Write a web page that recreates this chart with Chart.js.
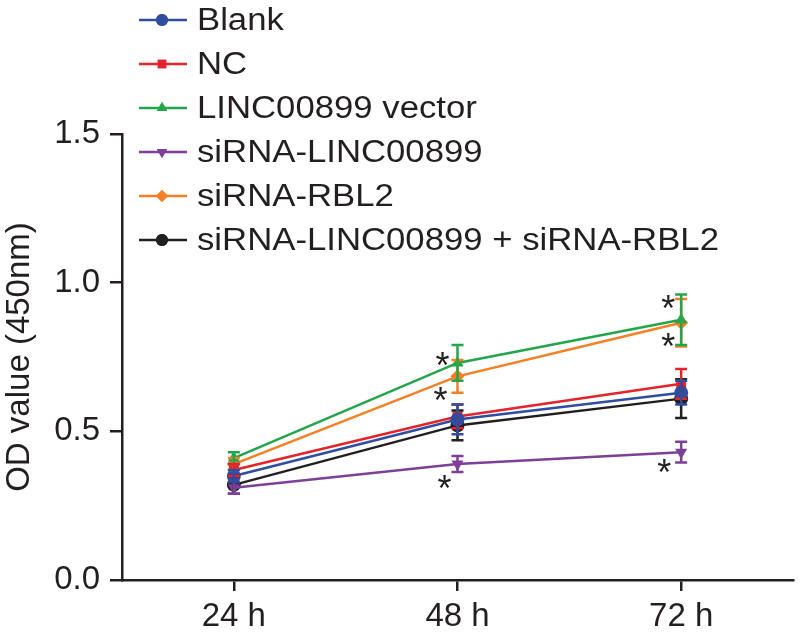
<!DOCTYPE html>
<html>
<head>
<meta charset="utf-8">
<script src="https://cdn.jsdelivr.net/npm/chart.js@4.4.1/dist/chart.umd.min.js"></script>
<style>
  body { margin: 0; background: #ffffff; }
  #wrap { width: 800px; height: 642px; position: relative; }
</style>
</head>
<body>
<div id="wrap"><canvas id="myChart" width="800" height="642"></canvas></div>
<script>
// data
var timeLabels = ['24 h', '48 h', '72 h'];
var yTicks = [0.0, 0.5, 1.0, 1.5];

var seriesNames = ['Blank', 'NC', 'LINC00899 vector', 'siRNA-LINC00899', 'siRNA-RBL2', 'siRNA-LINC00899 + siRNA-RBL2'];

var blank      = [0.35, 0.54, 0.63];
var nc         = [0.37, 0.55, 0.66];
var vector     = [0.41, 0.73, 0.875];
var siLinc     = [0.31, 0.39, 0.43];
var siRbl2     = [0.39, 0.685, 0.865];
var siBoth     = [0.32, 0.52, 0.61];

var blankErr   = [0.02, 0.05, 0.04];
var ncErr      = [0.02, 0.04, 0.05];
var vectorErr  = [0.02, 0.06, 0.085];
var siLincErr  = [0.02, 0.027, 0.035];
var siRbl2Err  = [0.02, 0.055, 0.08];
var siBothErr  = [0.03, 0.05, 0.065];

// significance marks: [series index, time index]
var stars = [[2, 1], [4, 1], [3, 1], [2, 2], [4, 2], [3, 2]];
// where each asterisk sits next to its point (px)
var starOffsets = [[-15, -3], [-17, 19], [-13, 19], [-13, -17], [-13, 18], [-17, 15]];

var colors = ['#2f4ea2', '#e5232a', '#22a64b', '#7e3f98', '#f47f24', '#231f20'];
var shapes = ['circle', 'rect', 'triangle', 'triangle', 'rectRot', 'circle'];
var rotations = [0, 0, 0, 180, 0, 0];
var values = [blank, nc, vector, siLinc, siRbl2, siBoth];
var errors = [blankErr, ncErr, vectorErr, siLincErr, siRbl2Err, siBothErr];

var FONT = '"Liberation Sans", Arial, sans-serif';

var datasets = [];
for (var i = 0; i < seriesNames.length; i++) {
    datasets.push({
        label: seriesNames[i],
        data: values[i],
        errs: errors[i],
        borderColor: colors[i],
        backgroundColor: colors[i],
        borderWidth: 2.5,
        pointStyle: shapes[i],
        rotation: rotations[i],
        pointRadius: 7,
        pointBorderWidth: 0,
        tension: 0
    });
}

// error bars and asterisks
var errorBars = {
    id: 'errorBars',
    afterDatasetsDraw: function(chart) {
        var ctx = chart.ctx;
        var yScale = chart.scales.y;
        ctx.save();
        for (var d = chart.data.datasets.length - 1; d >= 0; d--) {
            var ds = chart.data.datasets[d];
            var meta = chart.getDatasetMeta(d);
            ctx.strokeStyle = ds.borderColor;
            ctx.lineWidth = 2.5;
            meta.data.forEach(function(pt, k) {
                var x = pt.x;
                var top = yScale.getPixelForValue(ds.data[k] + ds.errs[k]);
                var bot = yScale.getPixelForValue(ds.data[k] - ds.errs[k]);
                ctx.beginPath();
                ctx.moveTo(x, top); ctx.lineTo(x, bot);
                ctx.moveTo(x - 6, top); ctx.lineTo(x + 6, top);
                ctx.moveTo(x - 6, bot); ctx.lineTo(x + 6, bot);
                ctx.stroke();
            });
        }
        ctx.fillStyle = '#231f20';
        ctx.font = '36px ' + FONT;
        ctx.textAlign = 'center';
        ctx.textBaseline = 'alphabetic';
        stars.forEach(function(s, n) {
            var pt = chart.getDatasetMeta(s[0]).data[s[1]];
            var cx = pt.x + starOffsets[n][0];
            var cy = pt.y + starOffsets[n][1];
            ctx.fillText('*', cx, cy + 18);
        });
        ctx.restore();
    }
};

// legend drawn in the top-left corner, over the plot
var topLegend = {
    id: 'topLegend',
    afterDraw: function(chart) {
        var ctx = chart.ctx;
        ctx.save();
        chart.data.datasets.forEach(function(ds, i) {
            var y = 20 + i * 44;
            ctx.strokeStyle = ds.borderColor;
            ctx.lineWidth = 2.5;
            ctx.beginPath();
            ctx.moveTo(139, y); ctx.lineTo(187, y);
            ctx.stroke();
            ctx.fillStyle = ds.borderColor;
            Chart.helpers.drawPoint(ctx, {
                pointStyle: ds.pointStyle, rotation: ds.rotation, radius: 6, borderWidth: 0
            }, 162, y);
            ctx.fill();
            ctx.save();
            ctx.translate(197, y);
            ctx.scale(1.12, 1);
            ctx.fillStyle = '#231f20';
            ctx.font = '31px ' + FONT;
            ctx.textBaseline = 'middle';
            ctx.fillText(ds.label, 0, 1);
            ctx.restore();
        });
        ctx.restore();
    }
};

var ctxL = document.getElementById('myChart').getContext('2d');
var myLineChart = new Chart(ctxL, {
    type: 'line',
    data: { labels: timeLabels, datasets: datasets },
    plugins: [errorBars, topLegend],
    options: {
        responsive: false,
        animation: false,
        layout: { padding: { top: 134, right: 5, left: 0, bottom: 0 } },
        plugins: { legend: { display: false }, tooltip: { enabled: false } },
        scales: {
            x: {
                offset: true,
                grid: { display: true, drawOnChartArea: false, drawTicks: true, tickLength: 11, color: '#231f20', lineWidth: 2.5, offset: false },
                border: { display: true, color: '#231f20', width: 2.5 },
                ticks: { color: '#231f20', font: { family: FONT, size: 33 }, padding: 6 },
                afterFit: function(scale) { scale.height = 62; }
            },
            y: {
                min: 0, max: 1.5,
                afterBuildTicks: function(scale) {
                    scale.ticks = yTicks.map(function(v) { return { value: v }; });
                },
                grid: { display: true, drawOnChartArea: false, drawTicks: true, tickLength: 12, color: '#231f20', lineWidth: 2.5 },
                border: { display: true, color: '#231f20', width: 2.5 },
                ticks: {
                    color: '#231f20', font: { family: FONT, size: 33 }, padding: 10,
                    callback: function(v) { return Number(v).toFixed(1); }
                },
                title: { display: true, text: 'OD value (450nm)', color: '#231f20', font: { family: FONT, size: 33 }, padding: 0 },
                afterFit: function(scale) { scale.width = 122; }
            }
        }
    }
});
</script>
</body>
</html>
